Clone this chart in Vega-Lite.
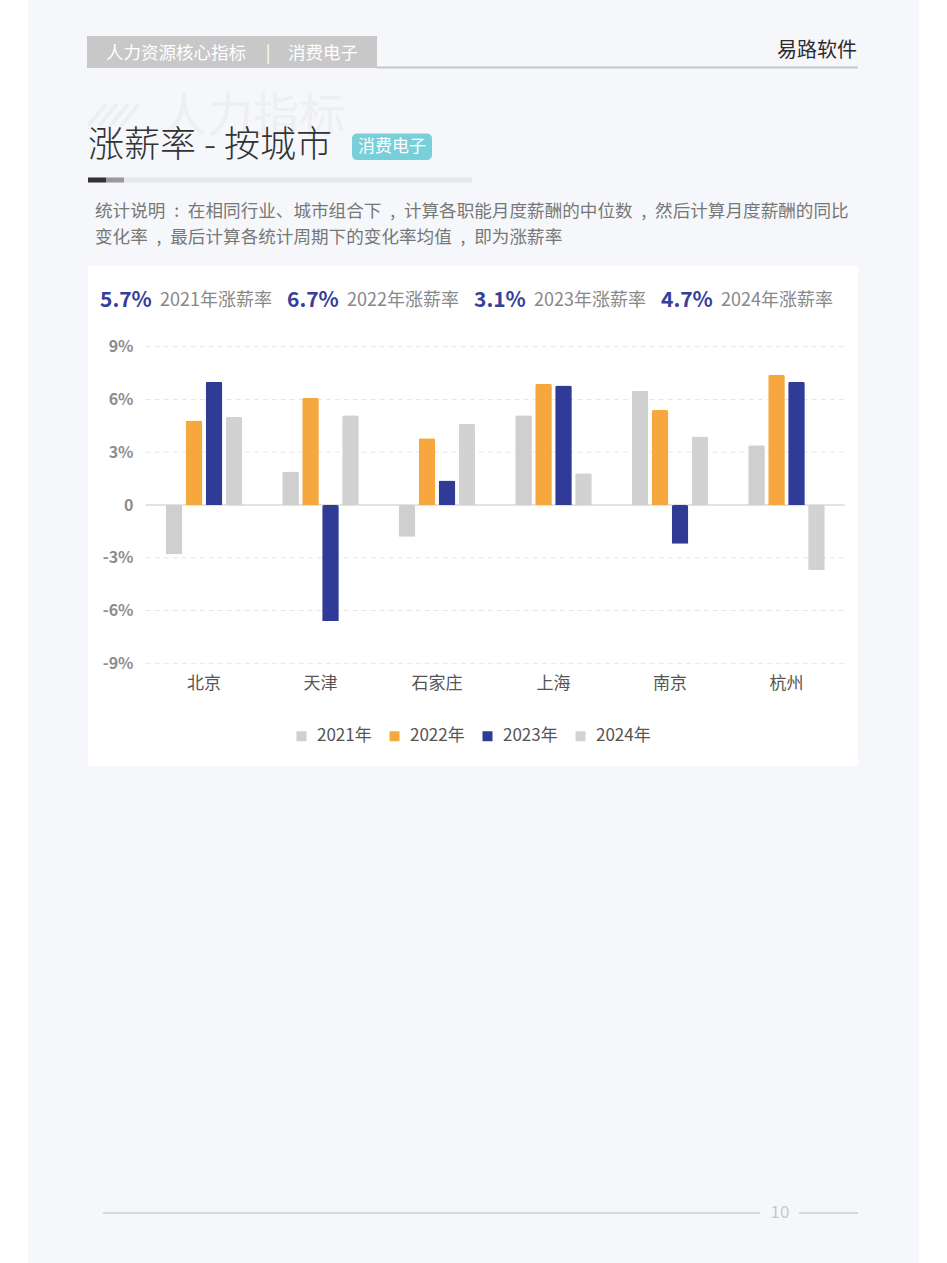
{
  "$schema": "https://vega.github.io/schema/vega-lite/v6.json",
  "padding": {"left": 28, "right": 28, "top": 0, "bottom": 0},
  "background": "white",
  "spacing": 0,
  "config": {
    "font": "Noto Sans CJK SC",
    "view": {"stroke": null},
    "concat": {"spacing": 0}
  },
  "vconcat": [
    {
      "width": 891,
      "height": 266,
      "view": {"fill": "#f6f7fb", "stroke": null},
      "layer": [
        {
          "data": {"values": [{"item": "header box"}]},
          "mark": {"type": "rect", "color": "#c8c8c8"},
          "encoding": {
            "x": {"datum": 59, "type": "quantitative", "scale": {"type": "linear", "domain": [0, 891], "nice": false, "zero": false}, "axis": null},
            "x2": {"datum": 349},
            "y": {"datum": 36, "type": "quantitative", "scale": {"type": "linear", "domain": [0, 266], "nice": false, "zero": false, "reverse": true}, "axis": null},
            "y2": {"datum": 68}
          }
        },
        {
          "data": {"values": [{"t": "人力资源核心指标"}]},
          "mark": {"type": "text", "align": "left", "baseline": "middle", "fontSize": 17.5, "color": "#ffffff"},
          "encoding": {
            "text": {"field": "t"},
            "x": {"datum": 78, "type": "quantitative", "axis": null},
            "y": {"datum": 53.5, "type": "quantitative", "axis": null}
          }
        },
        {
          "data": {"values": [{"t": "|"}]},
          "mark": {"type": "text", "align": "center", "baseline": "middle", "fontSize": 17.5, "color": "#ffffff"},
          "encoding": {
            "text": {"field": "t"},
            "x": {"datum": 240, "type": "quantitative", "axis": null},
            "y": {"datum": 53.5, "type": "quantitative", "axis": null}
          }
        },
        {
          "data": {"values": [{"t": "消费电子"}]},
          "mark": {"type": "text", "align": "left", "baseline": "middle", "fontSize": 17.5, "color": "#ffffff"},
          "encoding": {
            "text": {"field": "t"},
            "x": {"datum": 260, "type": "quantitative", "axis": null},
            "y": {"datum": 53.5, "type": "quantitative", "axis": null}
          }
        },
        {
          "data": {"values": [{"t": "易路软件"}]},
          "mark": {"type": "text", "align": "right", "baseline": "middle", "fontSize": 20, "color": "#2b2b2b"},
          "encoding": {
            "text": {"field": "t"},
            "x": {"datum": 829, "type": "quantitative", "axis": null},
            "y": {"datum": 51, "type": "quantitative", "axis": null}
          }
        },
        {
          "data": {"values": [{"item": "header line"}]},
          "mark": {"type": "rule", "color": "#c4c7cd", "strokeWidth": 2},
          "encoding": {
            "x": {"datum": 349, "type": "quantitative", "axis": null},
            "x2": {"datum": 830},
            "y": {"datum": 67.5, "type": "quantitative", "axis": null}
          }
        },
        {
          "data": {"values": [{"item": "hatch 1"}]},
          "mark": {"type": "rule", "color": "#eceef2", "strokeWidth": 4},
          "encoding": {
            "x": {"datum": 60, "type": "quantitative", "axis": null},
            "x2": {"datum": 78},
            "y": {"datum": 126, "type": "quantitative", "axis": null},
            "y2": {"datum": 104}
          }
        },
        {
          "data": {"values": [{"item": "hatch 2"}]},
          "mark": {"type": "rule", "color": "#eceef2", "strokeWidth": 4},
          "encoding": {
            "x": {"datum": 71, "type": "quantitative", "axis": null},
            "x2": {"datum": 89},
            "y": {"datum": 126, "type": "quantitative", "axis": null},
            "y2": {"datum": 104}
          }
        },
        {
          "data": {"values": [{"item": "hatch 3"}]},
          "mark": {"type": "rule", "color": "#eceef2", "strokeWidth": 4},
          "encoding": {
            "x": {"datum": 82, "type": "quantitative", "axis": null},
            "x2": {"datum": 100},
            "y": {"datum": 126, "type": "quantitative", "axis": null},
            "y2": {"datum": 104}
          }
        },
        {
          "data": {"values": [{"item": "hatch 4"}]},
          "mark": {"type": "rule", "color": "#eceef2", "strokeWidth": 4},
          "encoding": {
            "x": {"datum": 93, "type": "quantitative", "axis": null},
            "x2": {"datum": 111},
            "y": {"datum": 126, "type": "quantitative", "axis": null},
            "y2": {"datum": 104}
          }
        },
        {
          "data": {"values": [{"t": "人力指标"}]},
          "mark": {"type": "text", "align": "left", "baseline": "middle", "fontSize": 46, "color": "#edeff3"},
          "encoding": {
            "text": {"field": "t"},
            "x": {"datum": 133, "type": "quantitative", "axis": null},
            "y": {"datum": 117, "type": "quantitative", "axis": null}
          }
        },
        {
          "data": {"values": [{"t": "涨薪率 - 按城市"}]},
          "mark": {"type": "text", "align": "left", "baseline": "middle", "fontSize": 36, "fontWeight": 300, "color": "#333333"},
          "encoding": {
            "text": {"field": "t"},
            "x": {"datum": 60, "type": "quantitative", "axis": null},
            "y": {"datum": 146, "type": "quantitative", "axis": null}
          }
        },
        {
          "data": {"values": [{"item": "badge"}]},
          "mark": {"type": "rect", "color": "#78cfd9", "cornerRadius": 5},
          "encoding": {
            "x": {"datum": 324, "type": "quantitative", "axis": null},
            "x2": {"datum": 404},
            "y": {"datum": 133.5, "type": "quantitative", "axis": null},
            "y2": {"datum": 160}
          }
        },
        {
          "data": {"values": [{"t": "消费电子"}]},
          "mark": {"type": "text", "align": "center", "baseline": "middle", "fontSize": 17, "color": "#ffffff"},
          "encoding": {
            "text": {"field": "t"},
            "x": {"datum": 364, "type": "quantitative", "axis": null},
            "y": {"datum": 147, "type": "quantitative", "axis": null}
          }
        },
        {
          "data": {"values": [{"item": "underline track"}]},
          "mark": {"type": "rect", "color": "#e7e8eb"},
          "encoding": {
            "x": {"datum": 60, "type": "quantitative", "axis": null},
            "x2": {"datum": 444},
            "y": {"datum": 177.5, "type": "quantitative", "axis": null},
            "y2": {"datum": 182.5}
          }
        },
        {
          "data": {"values": [{"item": "underline dark"}]},
          "mark": {"type": "rect", "color": "#333333"},
          "encoding": {
            "x": {"datum": 60, "type": "quantitative", "axis": null},
            "x2": {"datum": 78},
            "y": {"datum": 177.5, "type": "quantitative", "axis": null},
            "y2": {"datum": 182.5}
          }
        },
        {
          "data": {"values": [{"item": "underline mid"}]},
          "mark": {"type": "rect", "color": "#9a9a9a"},
          "encoding": {
            "x": {"datum": 78, "type": "quantitative", "axis": null},
            "x2": {"datum": 96},
            "y": {"datum": 177.5, "type": "quantitative", "axis": null},
            "y2": {"datum": 182.5}
          }
        },
        {
          "data": {"values": [{"t": "统计说明\u2002:\u2002在相同行业、城市组合下\u2002,\u2002计算各职能月度薪酬的中位数\u2002,\u2002然后计算月度薪酬的同比"}]},
          "mark": {"type": "text", "align": "left", "baseline": "middle", "fontSize": 17.6, "color": "#777777"},
          "encoding": {
            "text": {"field": "t"},
            "x": {"datum": 67, "type": "quantitative", "axis": null},
            "y": {"datum": 212, "type": "quantitative", "axis": null}
          }
        },
        {
          "data": {"values": [{"t": "变化率\u2002,\u2002最后计算各统计周期下的变化率均值\u2002,\u2002即为涨薪率"}]},
          "mark": {"type": "text", "align": "left", "baseline": "middle", "fontSize": 17.6, "color": "#777777"},
          "encoding": {
            "text": {"field": "t"},
            "x": {"datum": 67, "type": "quantitative", "axis": null},
            "y": {"datum": 238, "type": "quantitative", "axis": null}
          }
        }
      ]
    },
    {
      "hconcat": [
        {
          "width": 60,
          "height": 500,
          "view": {"fill": "#f6f7fb", "stroke": null},
          "data": {"values": [{"item": "page margin"}]},
          "mark": {"type": "text", "text": ""},
          "encoding": {}
        },
        {
          "vconcat": [
            {
              "width": 770,
              "height": 70,
              "view": {"fill": "#ffffff", "stroke": null},
              "data": {"values": [
                {"year": "2021", "rate": "5.7%", "label": "2021年涨薪率"},
                {"year": "2022", "rate": "6.7%", "label": "2022年涨薪率"},
                {"year": "2023", "rate": "3.1%", "label": "2023年涨薪率"},
                {"year": "2024", "rate": "4.7%", "label": "2024年涨薪率"}
              ]},
              "layer": [
                {
                  "mark": {"type": "text", "align": "left", "baseline": "middle", "fontSize": 21, "fontWeight": "bold", "color": "#36409a"},
                  "encoding": {
                    "x": {"field": "year", "type": "nominal", "bandPosition": 0, "scale": {"type": "band", "paddingInner": 0, "paddingOuter": 0.058824, "align": 0.5455}, "axis": null},
                    "text": {"field": "rate"}
                  }
                },
                {
                  "mark": {"type": "text", "align": "left", "baseline": "middle", "fontSize": 18, "color": "#888888", "dx": 60},
                  "encoding": {
                    "x": {"field": "year", "type": "nominal", "bandPosition": 0, "axis": null},
                    "text": {"field": "label"}
                  }
                }
              ]
            },
            {
              "width": 770,
              "height": 430,
              "view": {"fill": "#ffffff", "stroke": null},
              "layer": [
                {
                  "data": {"values": [{"v": -9}, {"v": -6}, {"v": -3}, {"v": 3}, {"v": 6}, {"v": 9}]},
                  "mark": {"type": "rule", "color": "#e6e6e6", "strokeDash": [5, 4], "strokeWidth": 1},
                  "encoding": {
                    "x": {"datum": "北京", "type": "nominal", "bandPosition": 0},
                    "x2": {"datum": "杭州", "bandPosition": 1},
                    "y": {"field": "v", "type": "quantitative"}
                  }
                },
                {
                  "data": {"values": [{"v": 0}]},
                  "mark": {"type": "rule", "color": "#c6c6c6", "strokeWidth": 1},
                  "encoding": {
                    "x": {"datum": "北京", "type": "nominal", "bandPosition": 0},
                    "x2": {"datum": "杭州", "bandPosition": 1},
                    "y": {"field": "v", "type": "quantitative"}
                  }
                },
                {
                  "data": {"values": [
                    {"city": "北京", "year": "2021年", "rate": -2.8},
                    {"city": "北京", "year": "2022年", "rate": 4.8},
                    {"city": "北京", "year": "2023年", "rate": 7.0},
                    {"city": "北京", "year": "2024年", "rate": 5.0},
                    {"city": "天津", "year": "2021年", "rate": 1.9},
                    {"city": "天津", "year": "2022年", "rate": 6.1},
                    {"city": "天津", "year": "2023年", "rate": -6.6},
                    {"city": "天津", "year": "2024年", "rate": 5.1},
                    {"city": "石家庄", "year": "2021年", "rate": -1.8},
                    {"city": "石家庄", "year": "2022年", "rate": 3.8},
                    {"city": "石家庄", "year": "2023年", "rate": 1.4},
                    {"city": "石家庄", "year": "2024年", "rate": 4.6},
                    {"city": "上海", "year": "2021年", "rate": 5.1},
                    {"city": "上海", "year": "2022年", "rate": 6.9},
                    {"city": "上海", "year": "2023年", "rate": 6.8},
                    {"city": "上海", "year": "2024年", "rate": 1.8},
                    {"city": "南京", "year": "2021年", "rate": 6.5},
                    {"city": "南京", "year": "2022年", "rate": 5.4},
                    {"city": "南京", "year": "2023年", "rate": -2.2},
                    {"city": "南京", "year": "2024年", "rate": 3.9},
                    {"city": "杭州", "year": "2021年", "rate": 3.4},
                    {"city": "杭州", "year": "2022年", "rate": 7.4},
                    {"city": "杭州", "year": "2023年", "rate": 7.0},
                    {"city": "杭州", "year": "2024年", "rate": -3.7}
                  ]},
                  "mark": {"type": "bar", "cornerRadiusEnd": 2},
                  "encoding": {
                    "x": {"field": "city", "type": "nominal"},
                    "xOffset": {
                      "field": "year", "type": "nominal",
                      "sort": ["2021年", "2022年", "2023年", "2024年"],
                      "scale": {"paddingInner": 0.1667, "paddingOuter": 1.3195}
                    },
                    "y": {"field": "rate", "type": "quantitative"},
                    "color": {
                      "field": "year", "type": "nominal",
                      "scale": {"domain": ["2021年", "2022年", "2023年", "2024年"], "range": ["#cfcfcf", "#f6a83f", "#2f3b96", "#d2d2d2"]},
                      "legend": {
                        "title": null, "orient": "none", "legendX": 265, "legendY": 727.5,
                        "direction": "horizontal", "symbolType": "square", "symbolSize": 100,
                        "symbolStrokeWidth": 0, "labelFontSize": 17, "labelColor": "#555555",
                        "labelOffset": 7, "columnPadding": 14, "padding": 0
                      }
                    }
                  }
                }
              ],
              "encoding": {
                "x": {
                  "field": "city", "type": "nominal",
                  "sort": ["北京", "天津", "石家庄", "上海", "南京", "杭州"],
                  "scale": {"domain": ["北京", "天津", "石家庄", "上海", "南京", "杭州"], "paddingInner": 0, "paddingOuter": 0.30472, "align": 0.8134},
                  "axis": {"title": null, "orient": "bottom", "offset": -83, "domain": false, "ticks": false, "tickSize": 0, "labelPadding": 0, "labelBaseline": "middle", "labelAngle": 0, "labelFontSize": 17, "labelColor": "#555555", "grid": false}
                },
                "y": {
                  "field": "rate", "type": "quantitative",
                  "scale": {"domain": [-14.838, 9.608], "nice": false, "zero": false},
                  "axis": {
                    "title": null,
                    "values": [-9, -6, -3, 0, 3, 6, 9],
                    "labelExpr": "datum.value == 0 ? '0' : datum.value + '%'",
                    "domain": false, "ticks": false, "tickSize": 0,
                    "labelPadding": 0, "offset": -45,
                    "labelFontSize": 16, "labelFontWeight": "bold", "labelColor": "#8c8c8c",
                    "grid": false
                  }
                }
              }
            }
          ],
          "spacing": 0
        },
        {
          "width": 61,
          "height": 500,
          "view": {"fill": "#f6f7fb", "stroke": null},
          "data": {"values": [{"item": "page margin"}]},
          "mark": {"type": "text", "text": ""},
          "encoding": {}
        }
      ],
      "spacing": 0
    },
    {
      "width": 891,
      "height": 497,
      "view": {"fill": "#f6f7fb", "stroke": null},
      "layer": [
        {
          "data": {"values": [{"item": "footer line left"}]},
          "mark": {"type": "rule", "color": "#c9ccd2", "strokeWidth": 1.5},
          "encoding": {
            "x": {"datum": 75, "type": "quantitative", "scale": {"type": "linear", "domain": [0, 891], "nice": false, "zero": false}, "axis": null},
            "x2": {"datum": 732},
            "y": {"datum": 447, "type": "quantitative", "scale": {"type": "linear", "domain": [0, 497], "nice": false, "zero": false, "reverse": true}, "axis": null}
          }
        },
        {
          "data": {"values": [{"item": "footer line right"}]},
          "mark": {"type": "rule", "color": "#c9ccd2", "strokeWidth": 1.5},
          "encoding": {
            "x": {"datum": 771, "type": "quantitative", "axis": null},
            "x2": {"datum": 830},
            "y": {"datum": 447, "type": "quantitative", "axis": null}
          }
        },
        {
          "data": {"values": [{"t": "10"}]},
          "mark": {"type": "text", "align": "center", "baseline": "middle", "fontSize": 17, "color": "#c8c8c8"},
          "encoding": {
            "text": {"field": "t"},
            "x": {"datum": 752, "type": "quantitative", "axis": null},
            "y": {"datum": 447, "type": "quantitative", "axis": null}
          }
        }
      ]
    }
  ]
}
